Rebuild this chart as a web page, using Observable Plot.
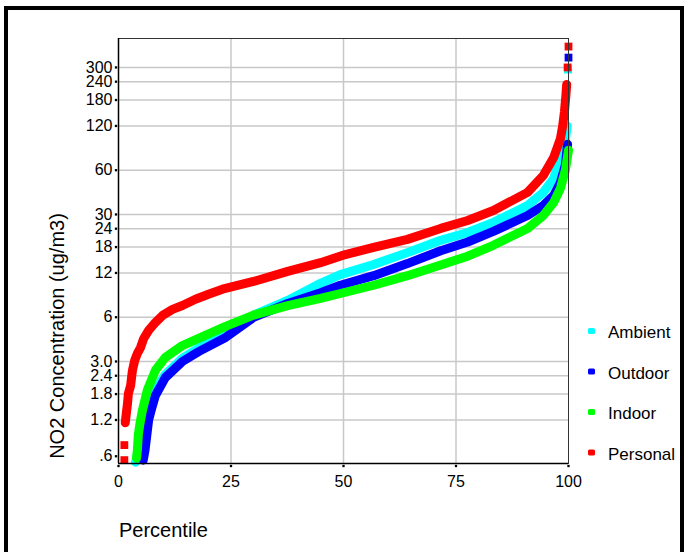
<!DOCTYPE html>
<html><head><meta charset="utf-8">
<script src="https://cdn.jsdelivr.net/npm/d3@7"></script>
<script src="https://cdn.jsdelivr.net/npm/@observablehq/plot@0.6"></script>
<style>body{margin:0;background:#fff}</style>
</head><body><div id="chart"></div>
<script>
const seriesNames = ["Ambient", "Outdoor", "Indoor", "Personal"];
const seriesColors = ["#00ffff", "#0000ff", "#00ff00", "#ff0000"];

// Ambient (cyan)
const ambientPct = [3.8, 4.3, 5.0, 5.8, 6.8, 8.2, 10.4, 14.2, 17.8, 23.8, 30, 37.6, 44.9, 49.3, 56.7, 64.2, 71.6, 77.6, 83.3, 90.9, 94.4, 96.7, 98.2, 99.3, 99.7];
const ambientVal = [0.62, 0.72, 0.9, 1.15, 1.45, 1.9, 2.45, 3.15, 3.7, 4.6, 6.2, 7.8, 10.2, 11.7, 13.7, 16.5, 20.0, 22.6, 26.5, 34.5, 42.3, 52.7, 73.3, 95, 120];
const ambientOutPct = [99.9];
const ambientOutVal = [290];

// Outdoor (blue)
const outdoorPct = [5.5, 5.9, 6.3, 6.7, 7.4, 8.2, 10.4, 14.2, 17.8, 23.8, 30, 37.6, 44.9, 49.3, 56.7, 64.2, 71.6, 77.6, 83.3, 90.9, 94.4, 96.7, 98.2, 99.3, 99.8];
const outdoorVal = [0.64, 0.75, 0.95, 1.2, 1.45, 1.76, 2.33, 3.0, 3.5, 4.37, 5.98, 7.44, 8.8, 9.9, 11.5, 13.9, 17.0, 19.5, 23.0, 29.5, 34.5, 40.4, 49.5, 65, 90];
const outdoorOutPct = [100];
const outdoorOutVal = [350];

// Indoor (green)
const indoorPct = [4.0, 4.2, 4.4, 4.8, 5.3, 6.4, 8.2, 10.4, 14.2, 17.8, 23.8, 30, 37.6, 44.9, 49.3, 56.7, 64.2, 71.6, 77.6, 83.3, 90.9, 94.4, 96.7, 98.2, 99.3, 100];
const indoorVal = [0.66, 0.75, 0.95, 1.15, 1.39, 1.91, 2.61, 3.19, 3.85, 4.3, 5.2, 6.2, 7.2, 8.05, 8.7, 9.9, 11.5, 13.6, 15.6, 18.5, 24.1, 29.5, 36.2, 45.1, 60, 82];

// Personal (red)
const personalPct = [1.5, 1.7, 2.0, 2.2, 2.7, 2.9, 3.1, 3.6, 4.2, 4.9, 5.6, 6.7, 8.2, 9.8, 12, 14.2, 17.1, 20, 23.1, 30, 37.6, 44.9, 50.4, 56.7, 64.2, 71.6, 77.6, 83.3, 90.9, 94.4, 96.7, 98.2, 98.7, 99.1, 99.4, 99.6];
const personalVal = [1.15, 1.3, 1.55, 1.82, 2.06, 2.33, 2.61, 3.05, 3.40, 3.73, 4.30, 4.88, 5.53, 6.17, 6.78, 7.21, 7.95, 8.6, 9.3, 10.5, 12.3, 14.1, 16.0, 17.9, 20.3, 24.1, 27.3, 31.9, 42.4, 55.2, 73.3, 98, 120, 150, 190, 230];
const personalOutPct = [1.3, 1.3, 99.8, 100];
const personalOutVal = [0.64, 0.81, 300, 416];

const yTickValues = [0.68, 1.2, 1.8, 2.4, 3.0, 6, 12, 18, 24, 30, 60, 120, 180, 240, 300];
const yTickLabels = [".6", "1.2", "1.8", "2.4", "3.0", "6", "12", "18", "24", "30", "60", "120", "180", "240", "300"];
const xTickValues = [0, 25, 50, 75, 100];
const xTickLabels = ["0", "25", "50", "75", "100"];

const rows = (name, pct, val) => pct.map((p, i) => ({series: name, p, v: val[i]}));
const lineData = [
  ...rows("Ambient", ambientPct, ambientVal),
  ...rows("Outdoor", outdoorPct, outdoorVal),
  ...rows("Indoor", indoorPct, indoorVal),
  ...rows("Personal", personalPct, personalVal)
];
const dotData = [
  ...rows("Ambient", ambientOutPct, ambientOutVal),
  ...rows("Outdoor", outdoorOutPct, outdoorOutVal),
  ...rows("Personal", personalOutPct, personalOutVal)
];
const yMin = 0.607, yMax = 472;
const gridYValues = yTickValues.slice(1);
const gridXValues = xTickValues.slice(1, 4);

const plot = Plot.plot({
  width: 684, height: 552,
  marginLeft: 118, marginRight: 116, marginTop: 38, marginBottom: 89,
  style: {fontFamily: "'Liberation Sans', Arial, sans-serif", background: "#fff", color: "#000"},
  x: {domain: [0, 100], axis: null},
  y: {type: "log", domain: [yMin, yMax], axis: null},
  color: {domain: seriesNames, range: seriesColors},
  marks: [
    Plot.ruleY(gridYValues, {y: d => d, stroke: "#c8c8c8", strokeWidth: 1.5}),
    Plot.ruleX(gridXValues, {x: d => d, stroke: "#c8c8c8", strokeWidth: 1.5}),
    Plot.line(lineData, {x: "p", y: "v", z: "series", stroke: "series", strokeWidth: 9, strokeLinejoin: "round"}),
    Plot.dot(dotData, {x: "p", y: "v", fill: "series", symbol: "square", r: 4.4}),
    Plot.frame({stroke: "#333", strokeWidth: 1}),
    Plot.ruleX([0], {stroke: "#000", strokeWidth: 1.5}),
    Plot.ruleY([yMin], {stroke: "#000", strokeWidth: 1.5}),
    // y ticks and labels
    Plot.dot(yTickValues, {x: 0, y: d => d, symbol: "square", r: 1.3, dx: -2.5, fill: "#000"}),
    Plot.text(yTickValues, {x: 0, y: d => d, text: (d, i) => yTickLabels[i], textAnchor: "end", dx: -6, fontSize: 16, fill: "#000"}),
    // x ticks and labels
    Plot.dot(xTickValues, {x: d => d, y: yMin, symbol: "square", r: 1.3, dy: 2.5, fill: "#000"}),
    Plot.text(xTickValues, {x: d => d, y: yMin, text: (d, i) => xTickLabels[i], lineAnchor: "top", dy: 12, fontSize: 16, fill: "#000"})
  ]
});

const svg = d3.select(plot);
// outer frame
svg.append("rect").attr("x", 6).attr("y", 8).attr("width", 676).attr("height", 600)
  .attr("fill", "none").attr("stroke", "#000").attr("stroke-width", 4);
// axis titles
svg.append("text").attr("transform", "translate(64,336) rotate(-90)")
  .attr("text-anchor", "middle").attr("font-size", 20).attr("fill", "#000")
  .text("NO2 Concentration (ug/m3)");
svg.append("text").attr("x", 119).attr("y", 537).attr("text-anchor", "start")
  .attr("font-size", 20).attr("fill", "#000").text("Percentile");
// legend
const legend = svg.append("g");
seriesNames.forEach((name, i) => {
  const cy = 331 + i * 40.5;
  legend.append("rect").attr("x", 588).attr("y", cy - 3).attr("width", 7).attr("height", 6)
    .attr("rx", 1.5).attr("fill", seriesColors[i]);
  legend.append("text").attr("x", 608).attr("y", cy + 7).attr("font-size", 17)
    .attr("text-anchor", "start").attr("fill", "#000").text(name);
});
document.getElementById("chart").appendChild(plot);
</script>
</body></html>
